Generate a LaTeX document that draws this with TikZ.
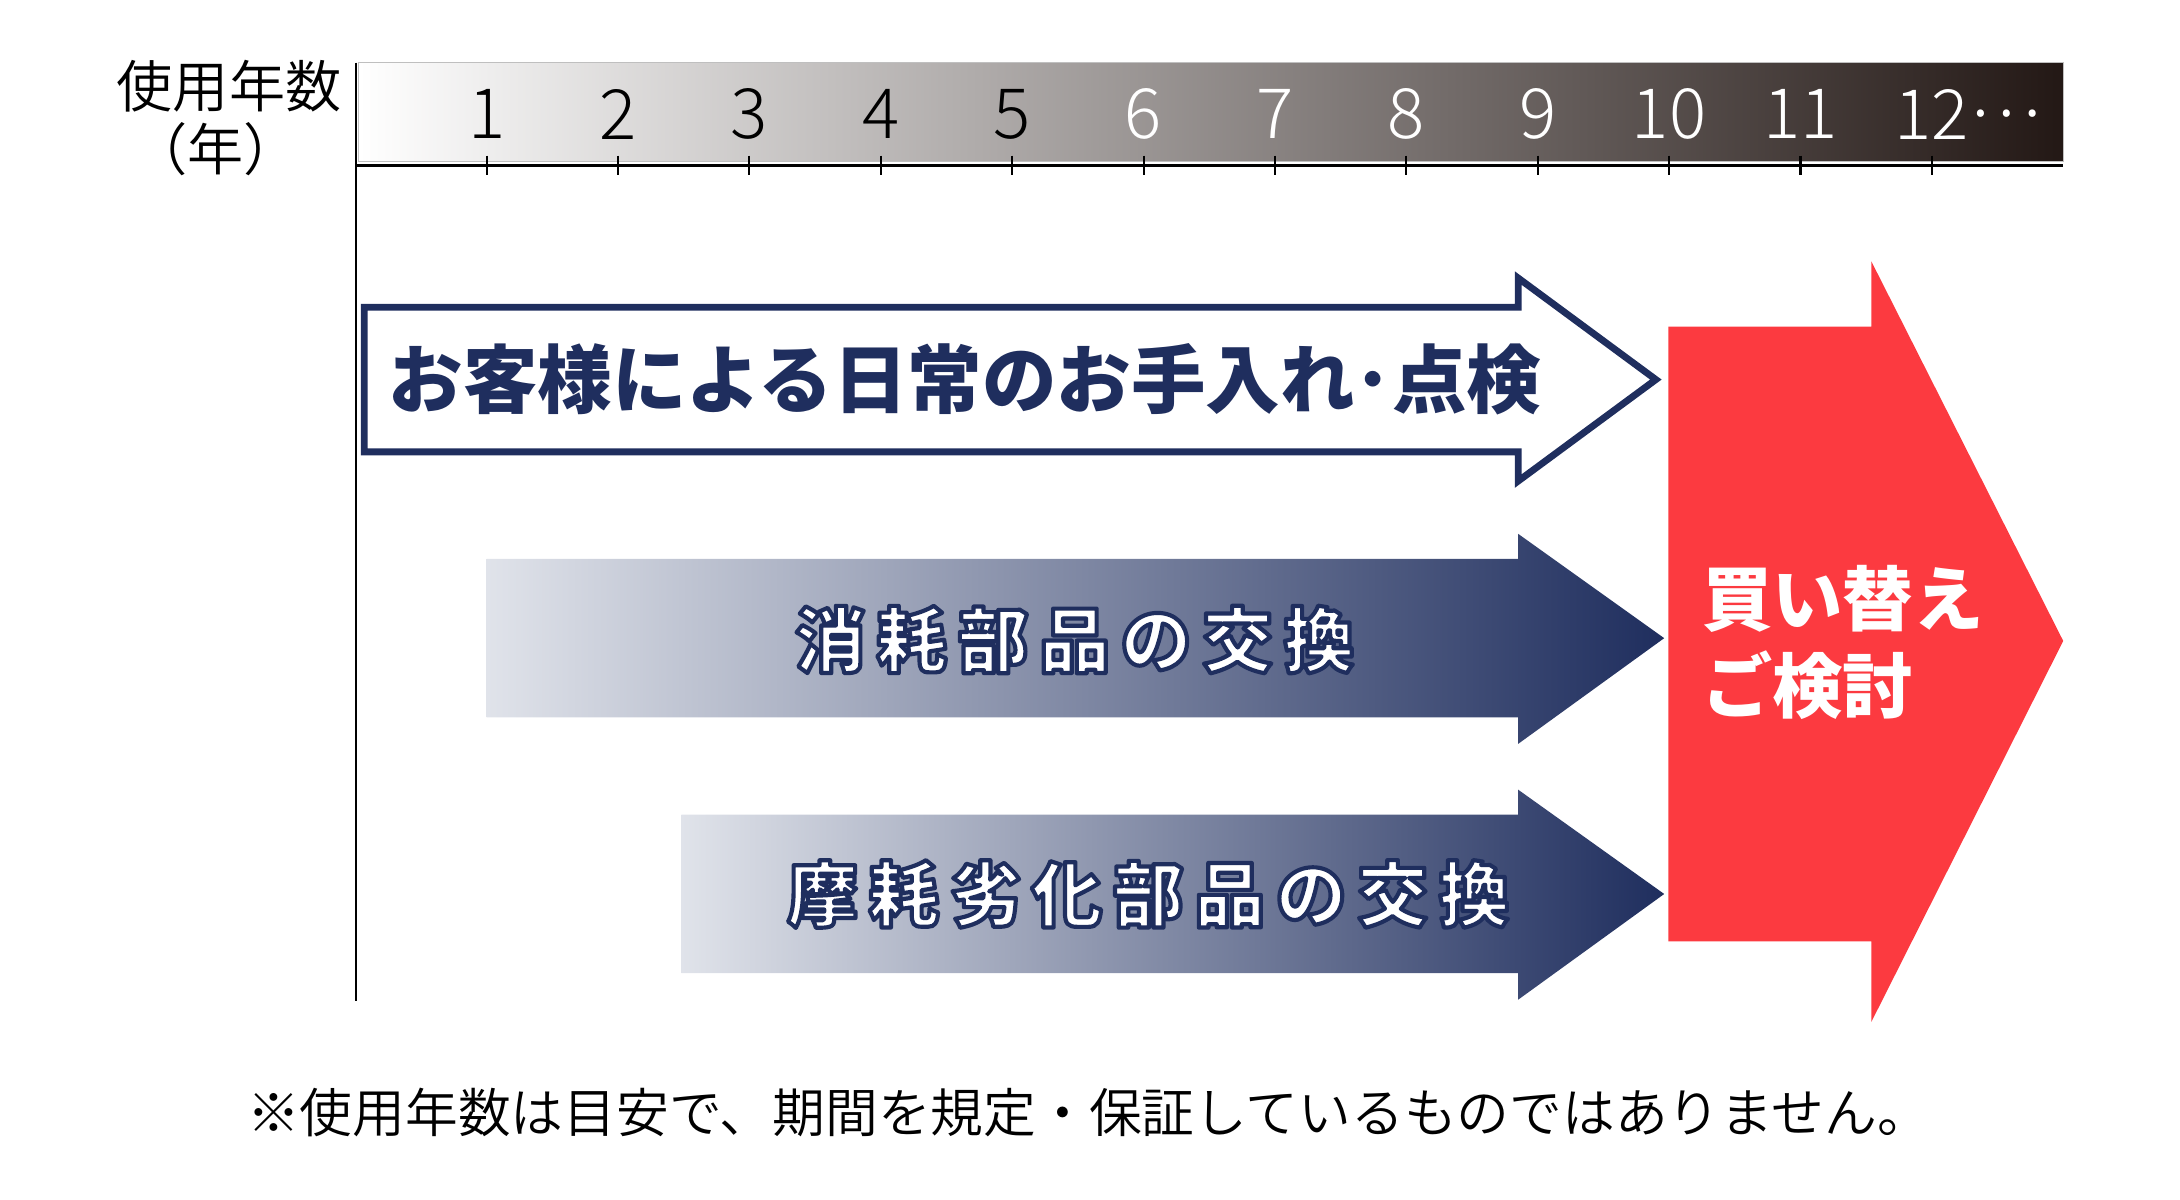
\documentclass[tikz,border=0pt]{standalone}
\usepackage{fontspec}
\setmainfont{Noto Sans CJK JP}
\newfontfamily\jpheavy{Noto Sans CJK JP Black}
\newfontfamily\jplight{Noto Sans CJK JP Light}
\newfontfamily\jpdemi{Noto Sans CJK JP DemiLight}
\usepackage{tikz}
\definecolor{navy}{RGB}{31,46,94}
\definecolor{gradlight}{RGB}{224,227,234}
\definecolor{alertred}{RGB}{252,58,64}
\definecolor{rulerdark}{RGB}{35,24,21}
% white text with a navy rim (fill and stroke)
\newcommand{\rimtext}[1]{%
    \special{pdf:literal direct 0.122 0.180 0.369 RG 1.7 w 1 j 2 Tr}#1\special{pdf:literal direct 0 Tr}}

\begin{document}
\begin{tikzpicture}[x=0.02cm, y=-0.02cm,
    axisline/.style = {line width=1.1pt, black},
    tickmark/.style = {line width=0.85pt, black},
    yearnum/.style = {inner sep=0pt, font=\jplight\fontsize{28.4}{28.4}\selectfont},
    axislabel/.style = {inner sep=0pt, font=\jpdemi\fontsize{23}{26}\selectfont},
    caretext/.style = {inner sep=0pt, text=navy, font=\jpheavy\fontsize{30.5}{30.5}\selectfont},
    parttext/.style = {inner sep=0pt, text=white, font=\jpheavy\fontsize{29}{29}\selectfont\addfontfeature{LetterSpace=15}},
    renewtext/.style = {inner sep=0pt, text=white, align=left, font=\jpheavy\fontsize{28.8}{35.5}\selectfont},
    notetext/.style = {inner sep=0pt, font=\jpdemi\fontsize{21.6}{21.6}\selectfont}]
    \useasboundingbox (0,0) rectangle (1568,863);

    % Ruler
    \shade[left color=white, right color=rulerdark, draw=black!25, line width=0.4pt] (258,45) rectangle (1484,116);
    \draw[axisline] (256,119) -- (1484,119);
    \draw[axisline] (256,45) -- (256,720);
    \foreach \n/\c in {1/black,2/black,3/black,4/black,5/black,6/white,7/white,8/white,9/white,10/white,11/white,12/white} {
        \draw[tickmark] ({350+94.5*(\n-1)},112) -- ++(0,14);
        \node[yearnum, text=\c] (y\n) at ({350+94.5*(\n-1)},82) {\n};
    }
    \node[yearnum, text=white, anchor=west] (more) at (y12.east) {…};

    \node[axislabel, anchor=east] (ylabel) at (246,62) {使用年数};
    \node[axislabel] (yunit) at (155,107) {（年）};

    % Arrows
    \draw[navy, line width=2.8pt, fill=white] (262,221) -- (1092,221) -- (1092,200) -- (1191,273)
        -- (1092,346) -- (1092,325) -- (262,325) -- cycle;
    \shade[left color=gradlight, right color=navy] (350,402) -- (1092,402) -- (1092,384) -- (1197,459)
        -- (1092,535) -- (1092,516) -- (350,516) -- cycle;
    \shade[left color=gradlight, right color=navy] (490,586) -- (1092,586) -- (1092,568) -- (1197,643)
        -- (1092,719) -- (1092,700) -- (490,700) -- cycle;
    \fill[alertred] (1200,235) -- (1346,235) -- (1346,188) -- (1484,461) -- (1346,735)
        -- (1346,677) -- (1200,677) -- cycle;

    % Labels
    \node[caretext] (care) at (694,273) {お客様による日常のお手入れ･点検};

    \node[parttext] (swap) at (773,460) {\rimtext{消耗部品の交換}};
    \node[parttext] (wear) at (826,643) {\rimtext{摩耗劣化部品の交換}};

    \node[renewtext, anchor=west] (renew) at (1224,462) {買い替え\\ご検討};

    \node[notetext] (note) at (783,800) {※使用年数は目安で、期間を規定・保証しているものではありません。};
\end{tikzpicture}
\end{document}
